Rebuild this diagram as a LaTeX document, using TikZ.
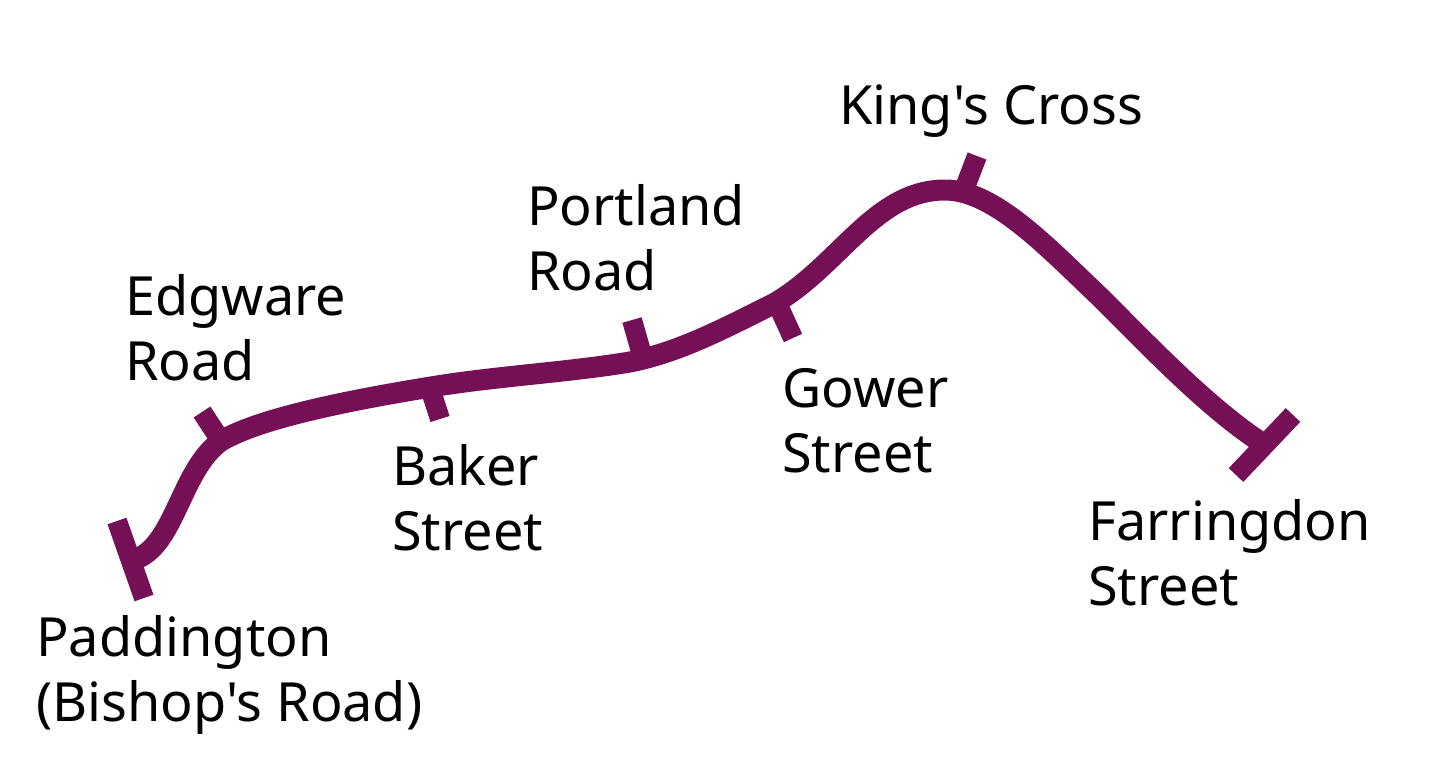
\documentclass[tikz,border=0pt]{standalone}
\usepackage{fontspec}
\newfontfamily\lblfont{Noto Sans}
\definecolor{metro}{HTML}{751056}
\tikzset{
  line/.style={draw=metro,line width=21pt,line join=round},
  tick/.style={draw=metro,line width=20pt},
  lbl/.style={anchor=base west,inner sep=0pt,font=\lblfont\fontsize{54}{65}\selectfont,align=left,text=black}
}
\begin{document}
\begin{tikzpicture}[x=1pt,y=-1pt]
\useasboundingbox (0,0) rectangle (1456,765);
\fill[white] (0,0) rectangle (1456,765);
\coordinate (p) at (133,560);
\coordinate (e) at (221,441);
\coordinate (b) at (437,386);
\coordinate (pr) at (630,362);
\coordinate (g) at (775,303);
\coordinate (k) at (945,190);
\coordinate (m) at (1100,297);
\coordinate (f) at (1265,445);
\draw[line] (p) .. controls (175,548) and (180,470) .. (e)
  .. controls (260,418) and (350,400) .. (b)
  .. controls (500,376) and (570,372) .. (pr)
  .. controls (680,352) and (725,328) .. (g)
  .. controls (840,265) and (875,190) .. (k)
  .. controls (995,190) and (1050,250) .. (m)
  .. controls (1150,347) and (1210,410) .. (f);
\draw[tick] (117,521) -- (144,598);
\draw[tick] (202,412) -- (221,441);
\draw[tick] (431,391) -- (440,419);
\draw[tick] (632,320) -- (642,355);
\draw[tick] (777,303) -- (793,338);
\draw[tick] (977,156) -- (964,190);
\draw[tick] (1293,415) -- (1236,475);
\node[lbl] (lp) at (36,721) {Paddington\\(Bishop's Road)};
\node[lbl] (le) at (125,380) {Edgware\\Road};
\node[lbl] (lb) at (392,550) {Baker\\Street};
\node[lbl] (lr) at (527,290) {Portland\\Road};
\node[lbl] (lg) at (782,472) {Gower\\Street};
\node[lbl] (lk) at (839,124.5) {King's Cross};
\node[lbl] (lf) at (1088,605) {Farringdon\\Street};
\end{tikzpicture}
\end{document}
